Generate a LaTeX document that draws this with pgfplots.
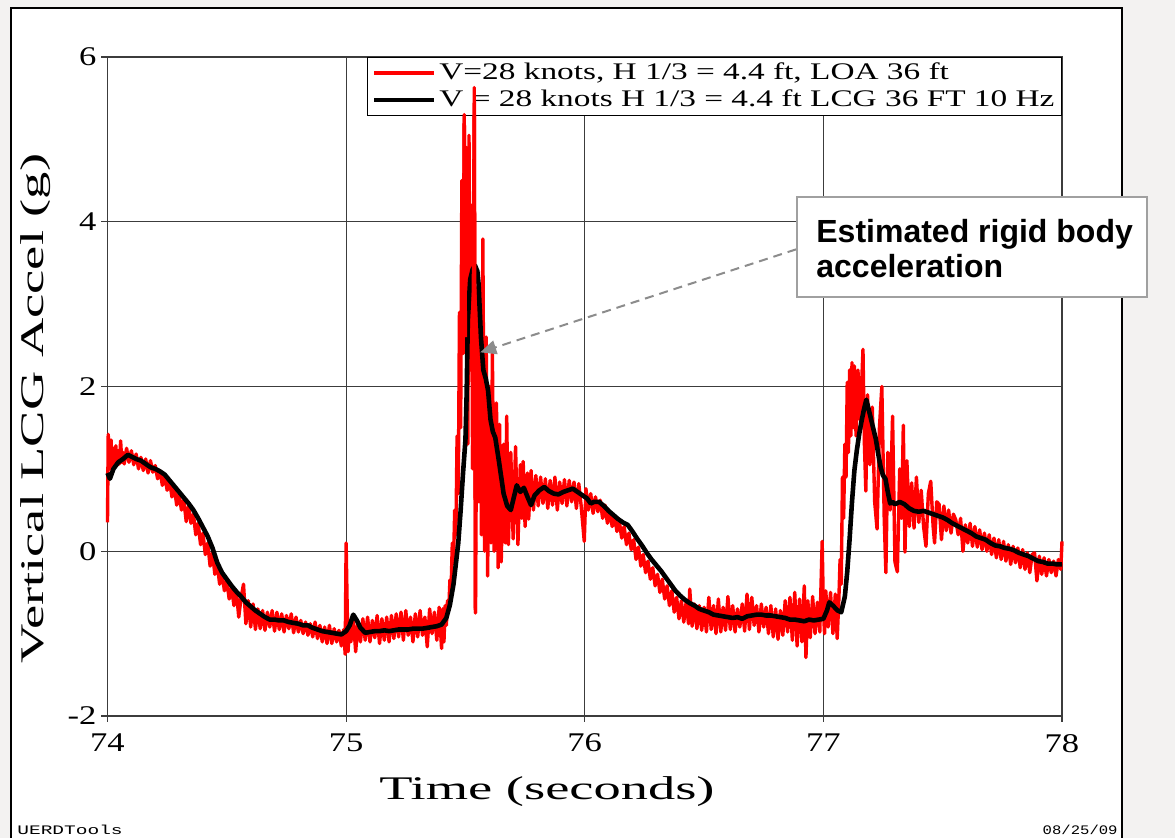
\documentclass[border=0pt]{standalone}
\usepackage{fontspec}
\setmainfont{Liberation Serif}
\newfontfamily\tickfont[FakeStretch=1.28]{Liberation Serif}
\newfontfamily\legfont[FakeStretch=1.4]{Liberation Serif}
\newfontfamily\labfont[FakeStretch=1.65]{Liberation Serif}
\newfontfamily\annfont{Liberation Sans}
\newfontfamily\monoA[FakeStretch=1.5]{Liberation Mono}
\newfontfamily\monoB[FakeStretch=1.2]{Liberation Mono}
\usepackage{pgfplots}
\pgfplotsset{compat=1.18}
\usepackage{pgfplotstable}
\usetikzlibrary{arrows.meta}
\definecolor{bggray}{RGB}{243,242,241}
\definecolor{gridc}{RGB}{60,60,60}
\definecolor{boxgray}{RGB}{160,160,160}
\definecolor{arrgray}{RGB}{140,140,140}

\pgfplotstableread{
x y
74.000 0.35
74.003 1.42
74.010 1.00
74.015 1.35
74.020 0.98
74.025 1.25
74.030 1.02
74.035 1.28
74.040 1.04
74.045 1.22
74.050 1.06
74.055 1.34
74.060 1.08
74.065 1.20
74.070 1.06
74.080 1.25
74.090 1.08
74.100 1.22
74.110 1.05
74.120 1.18
74.130 1.00
74.140 1.14
74.150 0.98
74.160 1.12
74.170 0.95
74.180 1.10
74.190 0.96
74.200 1.04
74.210 0.88
74.220 0.98
74.230 0.80
74.240 0.92
74.250 0.74
74.260 0.86
74.270 0.66
74.280 0.78
74.290 0.56
74.300 0.70
74.310 0.50
74.320 0.62
74.330 0.36
74.340 0.55
74.350 0.34
74.360 0.45
74.370 0.20
74.380 0.34
74.390 0.08
74.400 0.22
74.410 -0.04
74.420 0.10
74.430 -0.18
74.440 -0.02
74.450 -0.28
74.460 -0.16
74.470 -0.40
74.480 -0.27
74.490 -0.48
74.500 -0.36
74.510 -0.58
74.520 -0.44
74.530 -0.66
74.540 -0.48
74.550 -0.80
74.560 -0.56
74.570 -0.40
74.580 -0.88
74.590 -0.60
74.600 -0.92
74.610 -0.64
74.620 -0.95
74.630 -0.70
74.640 -0.94
74.650 -0.72
74.660 -0.96
74.670 -0.74
74.680 -0.92
74.690 -0.72
74.700 -0.97
74.710 -0.74
74.720 -0.95
74.730 -0.76
74.740 -0.98
74.750 -0.78
74.760 -0.94
74.770 -0.76
74.780 -0.99
74.790 -0.80
74.800 -0.98
74.810 -0.84
74.820 -1.00
74.830 -0.86
74.840 -1.02
74.850 -0.88
74.860 -1.04
74.870 -0.86
74.880 -1.06
74.890 -0.90
74.900 -1.10
74.910 -0.92
74.920 -1.12
74.930 -0.90
74.940 -1.12
74.950 -0.94
74.960 -1.10
74.970 -0.96
74.980 -1.15
74.990 -0.95
74.996 -1.25
75.000 0.10
75.004 -0.60
75.008 -1.22
75.015 -0.85
75.020 -1.10
75.030 -0.80
75.040 -1.22
75.050 -0.85
75.060 -1.10
75.070 -0.82
75.080 -1.08
75.090 -0.80
75.100 -1.10
75.110 -0.84
75.120 -1.05
75.130 -0.78
75.140 -1.12
75.150 -0.82
75.160 -1.08
75.170 -0.80
75.180 -1.10
75.190 -0.78
75.200 -1.06
75.210 -0.76
75.220 -1.04
75.230 -0.74
75.240 -1.08
75.250 -0.72
75.260 -1.02
75.270 -0.80
75.280 -1.10
75.290 -0.76
75.300 -1.04
75.310 -0.72
75.320 -1.02
75.330 -0.80
75.340 -1.16
75.350 -0.70
75.360 -1.00
75.370 -0.74
75.380 -1.08
75.390 -0.68
75.400 -1.18
75.405 -0.70
75.410 -1.10
75.415 -0.66
75.420 -0.90
75.425 -0.60
75.430 -0.72
75.435 -0.35
75.440 -0.45
75.445 0.10
75.450 -0.15
75.455 0.50
75.460 0.20
75.465 1.40
75.470 0.70
75.475 2.90
75.480 1.50
75.485 4.50
75.490 2.40
75.495 5.30
75.500 2.60
75.505 4.90
75.510 1.30
75.515 5.05
75.520 2.20
75.525 4.20
75.530 1.00
75.537 5.63
75.542 -0.75
75.550 3.20
75.556 0.60
75.562 2.90
75.567 0.20
75.573 3.79
75.580 0.00
75.587 2.60
75.593 -0.30
75.600 2.00
75.607 0.10
75.613 2.40
75.620 0.00
75.630 1.80
75.637 -0.20
75.643 1.54
75.650 -0.13
75.660 1.30
75.667 0.10
75.673 1.64
75.680 0.08
75.690 1.20
75.700 0.15
75.710 1.27
75.720 0.08
75.730 1.05
75.736 0.40
75.742 1.09
75.750 0.30
75.760 0.95
75.765 0.39
75.775 0.98
75.785 0.50
75.795 0.92
75.805 0.55
75.815 0.90
75.825 0.58
75.835 0.88
75.845 0.52
75.855 0.86
75.865 0.56
75.875 0.90
75.885 0.50
75.895 0.84
75.905 0.58
75.915 0.87
75.925 0.55
75.935 0.86
75.945 0.60
75.955 0.84
75.965 0.52
75.975 0.82
75.985 0.55
75.998 0.12
76.005 0.76
76.015 0.50
76.025 0.70
76.035 0.46
76.045 0.66
76.055 0.48
76.065 0.62
76.075 0.40
76.085 0.56
76.095 0.34
76.105 0.48
76.115 0.30
76.125 0.42
76.135 0.24
76.145 0.36
76.155 0.16
76.165 0.30
76.175 0.08
76.185 0.22
76.195 0.02
76.205 0.14
76.215 -0.10
76.225 0.05
76.235 -0.18
76.245 -0.04
76.255 -0.26
76.265 -0.12
76.275 -0.34
76.285 -0.20
76.295 -0.42
76.305 -0.28
76.315 -0.50
76.325 -0.34
76.335 -0.58
76.345 -0.42
76.355 -0.66
76.365 -0.48
76.375 -0.74
76.385 -0.56
76.395 -0.82
76.405 -0.60
76.415 -0.86
76.425 -0.62
76.435 -0.88
76.440 -0.46
76.450 -0.91
76.460 -0.64
76.470 -0.94
76.480 -0.66
76.490 -0.96
76.500 -0.68
76.510 -0.98
76.520 -0.56
76.530 -0.95
76.540 -0.66
76.550 -1.00
76.560 -0.58
76.570 -0.98
76.580 -0.68
76.590 -0.96
76.600 -0.55
76.610 -0.95
76.620 -0.66
76.630 -0.98
76.640 -0.70
76.650 -0.92
76.660 -0.64
76.670 -0.97
76.680 -0.52
76.690 -0.95
76.700 -0.56
76.710 -0.90
76.720 -0.66
76.730 -0.98
76.740 -0.64
76.750 -0.92
76.760 -0.68
76.770 -1.00
76.780 -0.66
76.790 -1.04
76.800 -0.70
76.810 -1.07
76.820 -0.72
76.830 -1.02
76.840 -0.60
76.850 -0.98
76.860 -0.56
76.870 -1.08
76.880 -0.50
76.890 -1.15
76.900 -0.58
76.910 -1.10
76.920 -0.42
76.927 -1.29
76.935 -0.60
76.945 -1.05
76.955 -0.55
76.965 -1.00
76.975 -0.62
76.985 -0.98
76.995 0.12
77.000 -0.70
77.005 -1.00
77.010 -0.48
77.020 -0.92
77.030 -0.50
77.040 -1.00
77.050 -0.52
77.058 -1.06
77.065 -0.58
77.070 -0.10
77.075 -0.40
77.080 0.90
77.085 0.40
77.090 1.30
77.095 0.90
77.100 2.05
77.105 1.20
77.110 2.20
77.115 1.40
77.120 2.29
77.125 1.50
77.130 2.25
77.137 1.40
77.145 2.20
77.152 1.60
77.160 2.00
77.166 2.45
77.172 1.30
77.178 0.73
77.185 1.90
77.195 1.05
77.205 1.75
77.215 0.60
77.225 0.27
77.235 1.50
77.245 2.00
77.255 0.40
77.262 -0.26
77.270 1.20
77.280 0.50
77.290 1.64
77.300 -0.13
77.310 -0.25
77.320 1.00
77.328 0.40
77.335 1.53
77.342 -0.01
77.350 1.10
77.360 0.30
77.370 0.83
77.380 0.28
77.390 0.90
77.400 0.35
77.410 0.74
77.420 0.30
77.430 0.06
77.440 0.70
77.450 0.85
77.460 0.30
77.466 0.10
77.475 0.60
77.485 0.57
77.495 0.14
77.505 0.55
77.515 0.25
77.525 0.50
77.535 0.22
77.545 0.45
77.555 0.38
77.565 0.20
77.575 0.40
77.585 0.00
77.595 0.32
77.605 0.10
77.615 0.34
77.625 0.06
77.635 0.30
77.645 0.05
77.655 0.26
77.665 0.02
77.675 0.22
77.685 0.00
77.695 0.20
77.705 -0.04
77.715 0.16
77.725 -0.08
77.735 0.14
77.745 -0.10
77.755 0.12
77.765 -0.12
77.775 0.08
77.785 -0.16
77.795 0.06
77.805 -0.14
77.815 0.04
77.825 -0.20
77.835 0.02
77.845 -0.22
77.855 -0.02
77.865 -0.26
77.875 -0.04
77.885 -0.02
77.895 -0.36
77.905 -0.06
77.915 -0.28
77.925 -0.08
77.935 -0.30
77.945 -0.10
77.955 -0.26
77.965 -0.12
77.975 -0.30
77.985 -0.10
77.995 -0.22
78.000 0.12
}\redtab

\pgfplotstableread{
x y
74.000 0.95
74.010 0.88
74.025 1.00
74.045 1.08
74.065 1.12
74.085 1.17
74.100 1.15
74.120 1.12
74.140 1.10
74.160 1.06
74.180 1.02
74.200 1.00
74.220 0.97
74.240 0.93
74.260 0.86
74.280 0.79
74.300 0.72
74.320 0.65
74.340 0.58
74.360 0.50
74.380 0.40
74.400 0.29
74.420 0.18
74.440 0.04
74.460 -0.14
74.480 -0.26
74.500 -0.34
74.520 -0.42
74.540 -0.49
74.560 -0.55
74.580 -0.62
74.600 -0.67
74.620 -0.72
74.640 -0.76
74.660 -0.80
74.680 -0.83
74.700 -0.83
74.720 -0.84
74.740 -0.84
74.760 -0.86
74.780 -0.87
74.800 -0.88
74.820 -0.90
74.840 -0.90
74.860 -0.93
74.880 -0.95
74.900 -0.97
74.920 -0.98
74.940 -0.99
74.960 -1.00
74.980 -1.01
75.000 -0.97
75.015 -0.90
75.030 -0.77
75.045 -0.84
75.060 -0.93
75.080 -0.99
75.100 -0.98
75.120 -0.97
75.140 -0.97
75.160 -0.96
75.180 -0.97
75.200 -0.96
75.220 -0.95
75.240 -0.95
75.260 -0.95
75.280 -0.94
75.300 -0.94
75.320 -0.94
75.340 -0.93
75.360 -0.92
75.380 -0.91
75.400 -0.89
75.420 -0.81
75.435 -0.65
75.450 -0.40
75.460 -0.15
75.470 0.10
75.480 0.50
75.490 0.95
75.500 1.35
75.505 1.90
75.510 2.80
75.520 3.30
75.530 3.42
75.540 3.47
75.550 3.40
75.555 3.25
75.565 2.60
75.575 2.20
75.585 2.10
75.595 1.95
75.605 1.60
75.615 1.45
75.625 1.38
75.640 1.10
75.650 0.90
75.660 0.70
75.675 0.55
75.690 0.50
75.700 0.62
75.715 0.80
75.730 0.72
75.745 0.77
75.760 0.66
75.775 0.56
75.790 0.68
75.810 0.74
75.830 0.78
75.850 0.73
75.870 0.70
75.890 0.69
75.910 0.72
75.930 0.74
75.950 0.76
75.970 0.72
75.990 0.68
76.010 0.64
76.025 0.58
76.040 0.60
76.060 0.60
76.080 0.55
76.100 0.49
76.120 0.44
76.140 0.39
76.160 0.35
76.180 0.32
76.200 0.24
76.220 0.15
76.240 0.07
76.260 -0.02
76.280 -0.10
76.300 -0.17
76.320 -0.24
76.340 -0.32
76.360 -0.40
76.380 -0.48
76.400 -0.54
76.420 -0.59
76.440 -0.63
76.460 -0.66
76.480 -0.70
76.500 -0.72
76.520 -0.74
76.540 -0.77
76.560 -0.78
76.580 -0.79
76.600 -0.80
76.620 -0.81
76.640 -0.80
76.660 -0.82
76.680 -0.79
76.700 -0.78
76.720 -0.77
76.740 -0.77
76.760 -0.78
76.780 -0.78
76.800 -0.79
76.820 -0.80
76.840 -0.81
76.860 -0.83
76.880 -0.83
76.900 -0.84
76.920 -0.85
76.940 -0.83
76.960 -0.84
76.980 -0.83
77.000 -0.82
77.015 -0.72
77.025 -0.62
77.040 -0.66
77.060 -0.72
77.075 -0.74
77.090 -0.55
77.100 -0.25
77.110 0.15
77.120 0.60
77.130 0.98
77.140 1.22
77.150 1.42
77.160 1.58
77.170 1.72
77.180 1.84
77.190 1.72
77.200 1.60
77.210 1.48
77.220 1.36
77.230 1.18
77.240 1.02
77.250 0.92
77.260 0.88
77.270 0.72
77.280 0.58
77.290 0.60
77.300 0.57
77.320 0.60
77.340 0.57
77.360 0.52
77.380 0.49
77.400 0.48
77.420 0.49
77.440 0.47
77.460 0.45
77.480 0.43
77.500 0.41
77.520 0.38
77.540 0.34
77.560 0.31
77.580 0.28
77.600 0.25
77.620 0.22
77.640 0.18
77.660 0.16
77.680 0.14
77.700 0.10
77.720 0.07
77.740 0.06
77.760 0.04
77.780 0.03
77.800 0.01
77.820 -0.02
77.840 -0.04
77.860 -0.06
77.880 -0.09
77.900 -0.12
77.920 -0.13
77.940 -0.15
77.960 -0.15
77.980 -0.16
78.000 -0.16
}\blacktab

\begin{document}
\begin{tikzpicture}
% page background and panel (pixel coordinates of the reference)
\begin{scope}[x=0.5pt,y=-0.5pt,shift={(-53.75pt,358pt)}]
  \fill[bggray] (0,0) rectangle (1175,838);
  \fill[white] (11,8) rectangle (1122,838);
  \draw[black, line width=1pt] (11,838) -- (11,8) -- (1122,8) -- (1122,838);
\end{scope}

\begin{axis}[
  at={(0pt,0pt)}, anchor=south west,
  scale only axis, width=477.25pt, height=329.5pt,
  xmin=74, xmax=78, ymin=-2, ymax=6,
  xtick={74,75,76,77,78}, ytick={-2,0,2,4,6},
  xticklabels={74,75,76,77,78}, yticklabels={-2,0,2,4,6},
  grid=major,
  major grid style={draw=gridc, line width=0.6pt},
  axis line style={draw=gridc, line width=0.6pt},
  tick style={draw=gridc, line width=0.6pt},
  tick align=outside, major tick length=3pt,
  xtick pos=bottom, ytick pos=left,
  xticklabel style={font=\tickfont\fontsize{13.5}{15}\selectfont, yshift=-2.5pt},
  yticklabel style={font=\tickfont\fontsize{13.5}{15}\selectfont, xshift=1pt},
  clip=false,
  legend style={at={(1,1)}, anchor=north east, draw=black, line width=0.5pt,
    fill=white, font=\legfont\fontsize{11.9}{14}\selectfont,
    inner xsep=2.5pt, inner ysep=1pt, row sep=0pt,
    nodes={inner sep=1pt, text height=9pt, text depth=2.5pt},
    /tikz/every odd column/.append style={column sep=0.3pt}},
  legend cell align=left,
  legend image code/.code={\draw[#1] (0pt,0pt) -- (30pt,0pt);},
]
\addplot[red, line width=1.7pt, line join=round] table[x=x,y=y] {\redtab};
\addlegendentry{V=28 knots, H 1/3 = 4.4 ft, LOA 36 ft}
\addplot[black, line width=2.3pt, line join=round] table[x=x,y=y] {\blacktab};
\addlegendentry{V = 28 knots H 1/3 = 4.4 ft LCG 36 FT 10 Hz}
\draw[arrgray, line width=1pt, dash pattern=on 4.5pt off 3pt,
  -{Triangle[length=8pt,width=7pt]}]
  (axis cs:76.886,3.665) -- (axis cs:75.562,2.415);
\end{axis}

% red spikes that run over the legend box
\begin{axis}[
  at={(0pt,0pt)}, anchor=south west,
  scale only axis, width=477.25pt, height=329.5pt,
  xmin=74, xmax=78, ymin=-2, ymax=6, hide axis, clip=false]
\addplot[red, line width=1.7pt, line join=round] coordinates {(75.490,2.40) (75.495,5.30) (75.500,2.60)};
\addplot[red, line width=1.7pt, line join=round] coordinates {(75.530,1.00) (75.537,5.63) (75.542,-0.75)};
\end{axis}

\begin{scope}[x=0.5pt,y=-0.5pt,shift={(-53.75pt,358pt)}]
  \node[anchor=base, inner sep=0, font=\labfont\fontsize{16.5}{19}\selectfont] at (547,800) {Time (seconds)};
  \node[anchor=base, rotate=90, inner sep=0, font=\labfont\fontsize{16.5}{19}\selectfont] at (43,408.5) {Vertical LCG Accel (g)};
  \draw[boxgray, line width=0.9pt, fill=white] (797,197) rectangle (1147,297);
  \node[anchor=base west, inner sep=0, font=\annfont\bfseries\fontsize{16}{19}\selectfont] at (816,243) {Estimated rigid body};
  \node[anchor=base west, inner sep=0, font=\annfont\bfseries\fontsize{16}{19}\selectfont] at (816,278) {acceleration};
  \node[anchor=base west, inner sep=0, font=\monoA\fontsize{6.5}{8}\selectfont] at (17,835) {UERDTools};
  \node[anchor=base east, inner sep=0, font=\monoB\fontsize{6.5}{8}\selectfont] at (1118,835) {08/25/09};
\end{scope}
\end{tikzpicture}
\end{document}
